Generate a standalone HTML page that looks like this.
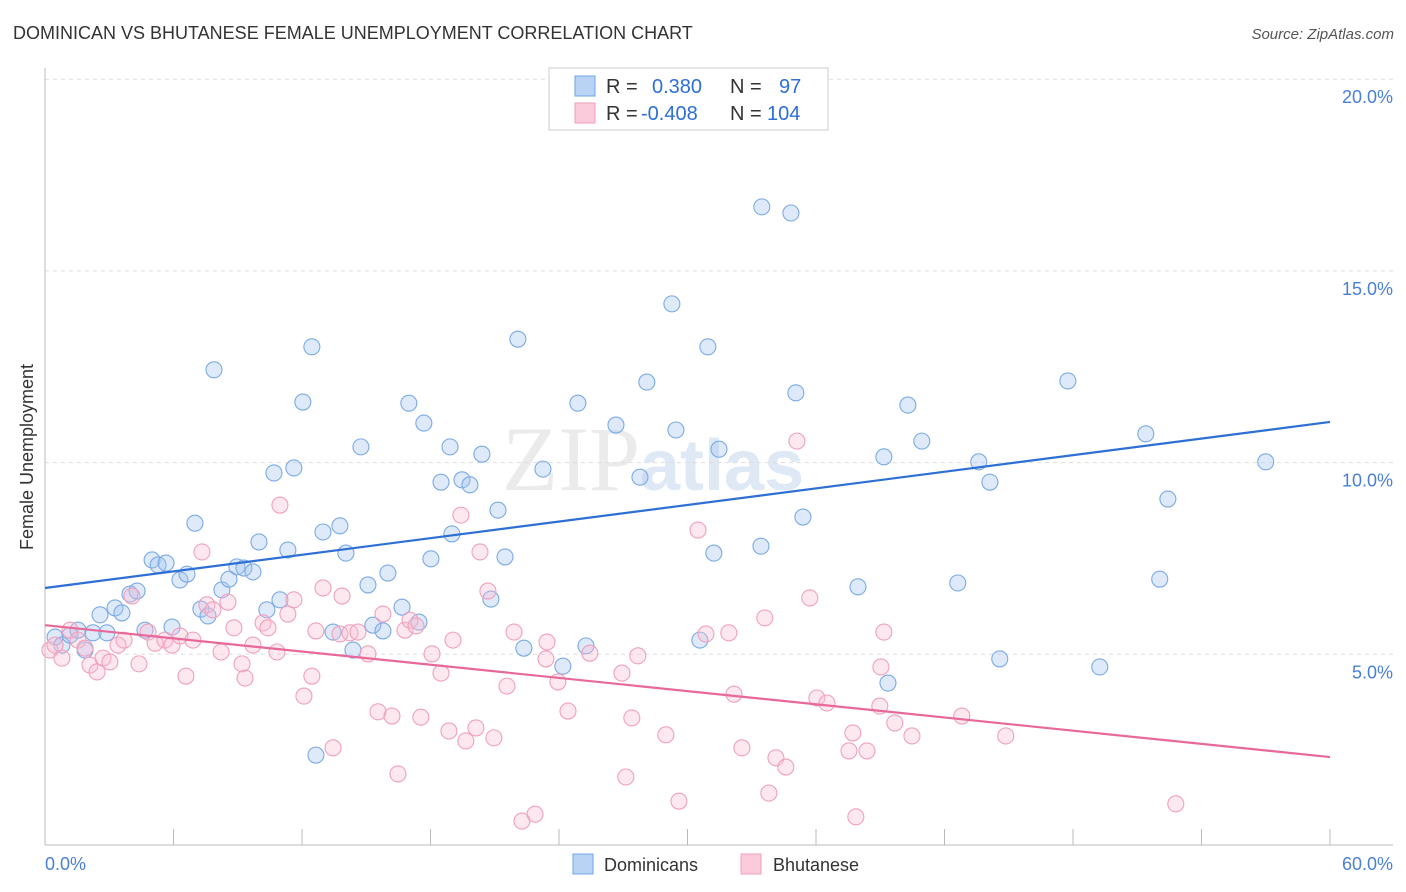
<!DOCTYPE html>
<html><head><meta charset="utf-8"><style>
body{margin:0;background:#fff;font-family:"Liberation Sans",sans-serif}
svg{display:block}
</style></head><body>
<svg width="1406" height="892" viewBox="0 0 1406 892" id="chart">
<text x="13" y="39" font-size="18" fill="#333">DOMINICAN VS BHUTANESE FEMALE UNEMPLOYMENT CORRELATION CHART</text>
<text x="1394" y="39" font-size="15" font-style="italic" fill="#555" text-anchor="end">Source: ZipAtlas.com</text>
<text transform="translate(33,457) rotate(-90)" font-size="18" fill="#333" text-anchor="middle">Female Unemployment</text>
<g><text x="640" y="490" font-size="92" font-family="Liberation Serif" fill="#ebebeb" text-anchor="end">ZIP</text><text x="640" y="490" font-size="72" fill="#dfe8f5" font-weight="bold">atlas</text></g>
<g id="grid"></g><g id="axes"></g><g id="pts"></g><g id="trend"></g>
<g>
<rect x="549" y="68" width="279" height="62" fill="#fff" stroke="#ccc"/>
<rect x="575" y="76" width="20" height="20" fill="#b9d3f5" stroke="#6fa3e6"/>
<rect x="575" y="103" width="20" height="20" fill="#fbcadb" stroke="#f0a0bc"/>
<text x="606" y="93" font-size="20" fill="#333">R = <tspan fill="#2d6fd4" x="652">0.380</tspan><tspan fill="#333" x="730">N =</tspan><tspan fill="#2d6fd4" x="779">97</tspan></text>
<text x="606" y="120" font-size="20" fill="#333">R = <tspan fill="#2d6fd4" x="641">-0.408</tspan><tspan fill="#333" x="730">N =</tspan><tspan fill="#2d6fd4" x="767">104</tspan></text>
</g>
<g>
<rect x="573" y="854" width="20" height="20" fill="#b9d3f5" stroke="#6fa3e6"/>
<text x="604" y="871" font-size="18" fill="#333">Dominicans</text>
<rect x="741" y="854" width="20" height="20" fill="#fbcadb" stroke="#f0a0bc"/>
<text x="773" y="871" font-size="18" fill="#333">Bhutanese</text>
</g>
</svg>
<script>
const yTicks=[5,10,15,20];
const yTickLabels=["5.0%","10.0%","15.0%","20.0%"];
const xTickVals=[0,6,12,18,24,30,36,42,48,54,60];
const xEndLabels=["0.0%","60.0%"];
const blueX=[0.47,0.79,1.17,1.54,1.87,2.24,2.57,2.89,3.27,3.59,3.97,4.30,4.67,5.00,5.28,5.65,5.93,6.30,6.63,7.00,7.28,7.61,7.89,8.26,8.59,8.96,9.29,9.71,9.99,10.36,10.69,10.97,11.34,11.62,12.04,12.46,12.65,12.98,13.45,13.77,14.05,14.38,14.75,15.08,15.31,15.78,16.01,16.67,16.99,17.46,17.69,18.02,18.49,18.91,19.00,19.47,19.84,20.40,20.82,21.15,21.48,22.08,22.36,23.25,24.18,24.88,25.26,26.66,27.78,28.10,29.27,29.46,30.58,30.95,31.23,31.47,33.43,33.47,34.83,35.06,35.39,37.96,39.17,39.36,40.29,40.94,42.62,43.60,44.12,44.58,47.76,49.25,51.40,52.05,52.43,57.00];
const blueY=[5.45,5.24,5.50,5.63,5.11,5.56,6.03,5.56,6.21,6.08,6.57,6.65,5.63,7.46,7.33,7.38,5.71,6.94,7.09,8.42,6.18,6.00,12.42,6.68,6.96,7.28,7.25,7.15,7.93,6.16,9.73,6.42,7.72,9.86,11.58,13.02,2.37,8.19,5.58,8.35,7.64,5.11,10.41,6.81,5.76,5.61,7.12,6.23,11.55,5.84,11.03,7.49,9.49,10.41,8.14,9.55,9.42,10.22,6.44,8.76,7.54,13.22,5.16,9.83,4.69,11.55,5.22,10.98,9.62,12.10,14.14,10.85,5.37,13.02,7.64,10.35,7.82,16.67,16.51,11.82,8.58,6.76,10.15,4.25,11.50,10.56,6.86,10.02,9.49,4.88,12.13,4.67,10.75,6.96,9.05,10.02];
const pinkX=[0.23,0.47,0.79,1.17,1.54,1.87,2.10,2.43,2.71,3.03,3.41,3.69,4.06,4.39,4.81,5.14,5.60,5.93,6.30,6.58,6.91,7.33,7.56,7.84,8.22,8.54,8.82,9.20,9.34,9.71,10.18,10.41,10.83,10.97,11.34,11.62,12.09,12.46,12.65,12.98,13.45,13.77,13.87,14.24,14.61,15.08,15.55,15.78,16.20,16.48,16.81,17.04,17.32,17.55,18.07,18.49,19.05,18.86,19.42,19.65,20.12,20.31,20.68,20.96,21.57,21.90,22.27,22.88,23.44,23.39,23.95,24.42,25.44,26.94,27.12,27.40,27.68,28.99,29.60,30.49,30.86,31.93,32.17,32.54,33.61,33.80,34.13,34.59,35.11,35.71,36.04,36.51,37.54,37.72,37.86,38.38,38.98,39.03,39.17,39.68,40.48,42.81,44.86,52.80];
const pinkY=[5.11,5.24,4.90,5.63,5.37,5.16,4.72,4.54,4.90,4.80,5.24,5.37,6.52,4.75,5.58,5.29,5.37,5.24,5.48,4.43,5.37,7.67,6.29,6.16,5.06,6.36,5.69,4.75,4.38,5.24,5.82,5.69,5.06,8.89,6.05,6.42,3.91,4.43,5.61,6.73,2.56,5.53,6.52,5.56,5.58,5.01,3.50,6.05,3.39,1.88,5.63,5.89,5.74,3.36,5.01,4.51,5.37,3.00,8.63,2.74,3.08,7.67,6.65,2.82,4.17,5.58,0.65,0.83,5.32,4.88,4.28,3.52,5.03,4.51,1.80,3.34,4.96,2.90,1.17,8.24,5.53,5.56,3.96,2.56,5.95,1.38,2.30,2.06,10.56,6.47,3.86,3.73,2.48,2.95,0.76,2.48,3.65,4.67,5.58,3.21,2.87,3.39,2.87,1.10];
const blueTrend=[6.73,11.06];
const pinkTrend=[5.76,2.32];
const X0=45,X1=1330,YB=846,PXPER=38.34;
const sx=v=>X0+(X1-X0)*v/60;
const sy=v=>YB-v*PXPER;
const NS="http://www.w3.org/2000/svg";
function mk(tag,attrs,parent,txt){const e=document.createElementNS(NS,tag);for(const k in attrs)e.setAttribute(k,attrs[k]);if(txt!==undefined)e.textContent=txt;document.getElementById(parent).appendChild(e);return e;}
yTicks.forEach((t,i)=>{
 const l=mk('line',{x1:45,x2:1393,y1:sy(t),y2:sy(t),stroke:'#ddd','stroke-dasharray':'4,4'},'grid');
 
 
 const tx=mk('text',{x:1393,y:sy(t)+24,'font-size':18,fill:'#4a7fd4','text-anchor':'end'},'grid',yTickLabels[i]);
 
 
});
const ax=mk('line',{x1:45,x2:45,y1:68,y2:845,stroke:'#bbb'},'axes');


const bx=mk('line',{x1:45,x2:1393,y1:845,y2:845,stroke:'#bbb'},'axes');


xTickVals.forEach(v=>{
 const t=mk('line',{x1:sx(v),x2:sx(v),y1:829,y2:845,stroke:'#bbb'},'axes');
 
 
});
const xl0=mk('text',{x:45,y:870,'font-size':18,fill:'#4a7fd4'},'axes',xEndLabels[0]);


const xl1=mk('text',{x:1393,y:870,'font-size':18,fill:'#4a7fd4','text-anchor':'end'},'axes',xEndLabels[1]);


blueX.forEach((x,i)=>{
 const c=mk('circle',{cx:sx(x),cy:sy(blueY[i]),r:8,fill:'rgba(160,196,240,0.35)',stroke:'#7aaae6','stroke-width':1.1},'pts');
 
 
});
pinkX.forEach((x,i)=>{
 const c=mk('circle',{cx:sx(x),cy:sy(pinkY[i]),r:8,fill:'rgba(248,190,210,0.35)',stroke:'#f0a0bc','stroke-width':1.1},'pts');
 
 
});
const bl=mk('line',{x1:sx(0),x2:sx(60),y1:sy(blueTrend[0]),y2:sy(blueTrend[1]),stroke:'#2d6fd4','stroke-width':2.2},'trend');


const pl=mk('line',{x1:sx(0),x2:sx(60),y1:sy(pinkTrend[0]),y2:sy(pinkTrend[1]),stroke:'#e8689a','stroke-width':2.2},'trend');


</script>
</body></html>
